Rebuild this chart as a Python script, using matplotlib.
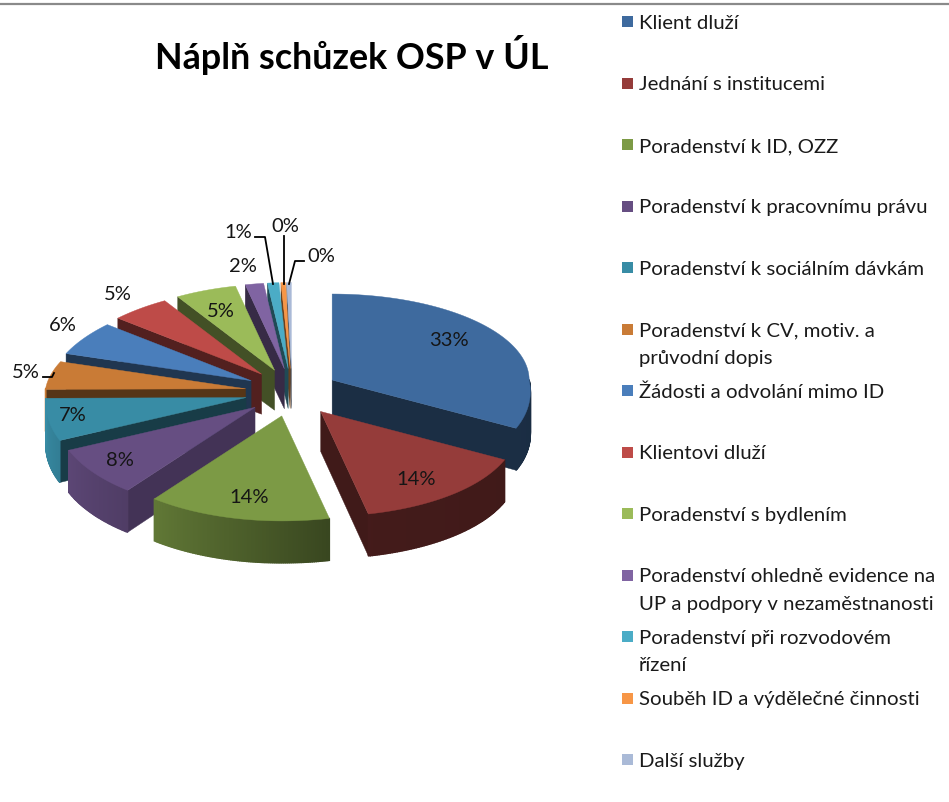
import numpy as np
import matplotlib
matplotlib.use("Agg")
import matplotlib.pyplot as plt
from matplotlib.patches import Polygon, Rectangle

categories = [
    "Klient dluží",
    "Jednání s institucemi",
    "Poradenství k ID, OZZ",
    "Poradenství k pracovnímu právu",
    "Poradenství k sociálním dávkám",
    "Poradenství k CV, motiv. a\nprůvodní dopis",
    "Žádosti a odvolání mimo ID",
    "Klientovi dluží",
    "Poradenství s bydlením",
    "Poradenství ohledně evidence na\nUP a podpory v nezaměstnanosti",
    "Poradenství při rozvodovém\nřízení",
    "Souběh ID a výdělečné činnosti",
    "Další služby",
]
values = [32.6, 13.9, 14.0, 7.8, 6.6, 5.2, 6.2, 5.0, 5.3, 1.6, 1.0, 0.4, 0.4]
colors = ["#3E6A9E", "#953C3A", "#7C9A45", "#664E82", "#388CA5", "#C97B36", "#4A7EBB",
          "#BE4B48", "#9BBB59", "#8064A2", "#4BACC6", "#F79646", "#AABAD7"]
label_x = [449, 416, 249, 120, 73, 26, 63, 118, 221, 243, 238, 285, 321]
label_y = [341, 480, 498, 461, 416, 373, 326, 295, 312, 267, 233, 226, 256]

leaders = [
    ([43, 52, 54], [378, 378, 374]),
    ([255, 265, 273], [238, 238, 285]),
    ([284, 284], [237, 285]),
    ([304, 295, 289], [262, 262, 285]),
]

plt.rcParams["font.family"] = ["Lato", "DejaVu Sans"]

CX, CY = 292, 393.5     # stred kolace v pixelech
EX, EY = 47, 24         # vysunuti vyseci
RY_UP, RY_DOWN = 86, 105
DEPTH = 42


def shade(color, f):
    rgb = np.array(matplotlib.colors.to_rgb(color))
    return tuple(rgb * f)


def rim_factor(a):
    # leva strana je svetla, prava tmava
    return np.interp(a, [90, 166, 218, 270], [0.42, 0.45, 0.78, 1.0])


def edge_point(apex, a):
    s, c = np.sin(np.radians(a)), np.cos(np.radians(a))
    # perspektiva: predni cast je sirsi nez zadni
    if s > 0:
        rx = 197 + (22 * -c if c < 0 else 0)
    else:
        rx = 200 + (10 * -c if c < 0 else -16 * c)
    x = apex[0] + s * rx
    y = apex[1] - c * (RY_UP if c > 0 else RY_DOWN)
    return x, y


def draw_slice(ax, a1, a2, color):
    mid = (a1 + a2) / 2
    apex = (CX + EX * np.sin(np.radians(mid)), CY - EY * np.cos(np.radians(mid)))
    angles = np.linspace(a1, a2, max(int(a2 - a1), 2) * 2 + 1)
    pts = [edge_point(apex, a) for a in angles]
    side = shade(color, 0.43 if not 200 < a1 < 240 else 0.66)

    def face(a):
        px, py = edge_point(apex, a)
        quad = [apex, (px, py), (px, py + DEPTH), (apex[0], apex[1] + DEPTH - 2)]
        ax.add_patch(Polygon(quad, facecolor=side, edgecolor=side, lw=0.3))

    if np.sin(np.radians(a1)) < 0:
        face(a1)
    if np.sin(np.radians(a2)) > 0:
        face(a2)

    # obvod vyseci po kratkych usecich kvuli prechodu
    for i in range(len(angles) - 1):
        a_mid = (angles[i] + angles[i + 1]) / 2
        if np.cos(np.radians(a_mid)) >= 0:
            continue
        p, q = pts[i], pts[i + 1]
        col = shade(color, rim_factor(a_mid))
        ax.add_patch(Polygon([p, q, (q[0], q[1] + DEPTH), (p[0], p[1] + DEPTH)],
                             facecolor=col, edgecolor=col, lw=1.0))

    ax.add_patch(Polygon([apex] + pts, facecolor=color, edgecolor=color, lw=0.3))


def main():
    fig = plt.figure(figsize=(9.49, 8.03), dpi=100)
    ax = fig.add_axes([0, 0, 1, 1])
    ax.set_xlim(0, 949)
    ax.set_ylim(803, 0)
    ax.axis("off")

    ax.plot([0, 949], [4.5, 4.5], color="#8A8A8A", lw=1.6)

    ax.text(351.5, 55, "Náplň schůzek OSP v ÚL", fontsize=25.8, fontweight="bold",
            ha="center", va="center", color="black")

    total = sum(values)
    edges = np.concatenate([[0], np.cumsum(values)]) / total * 360
    order = sorted(range(len(values)),
                   key=lambda i: -np.cos(np.radians((edges[i] + edges[i + 1]) / 2)))
    for i in order:
        draw_slice(ax, edges[i], edges[i + 1], colors[i])

    for xs, ys in leaders:
        ax.plot(xs, ys, color="black", lw=1.3)

    for v, x, y in zip(values, label_x, label_y):
        ax.text(x, y, f"{v:.0f}%", fontsize=14.5, ha="center", va="center", color="#151515")

    # legenda je rucne, radky maji stejny rozestup i kdyz jsou dvouradkove
    for i, (name, col) in enumerate(zip(categories, colors)):
        y = 22 + 61.5 * i
        ax.add_patch(Rectangle((622, y - 5), 11, 11, facecolor=col, edgecolor="none"))
        for j, line in enumerate(name.split("\n")):
            ax.text(639, y + 7 + j * 27.5, line, fontsize=14.7, ha="left", va="baseline",
                    color="#1A1A1A")

    fig.savefig("out.png", dpi=100)


if __name__ == "__main__":
    main()
